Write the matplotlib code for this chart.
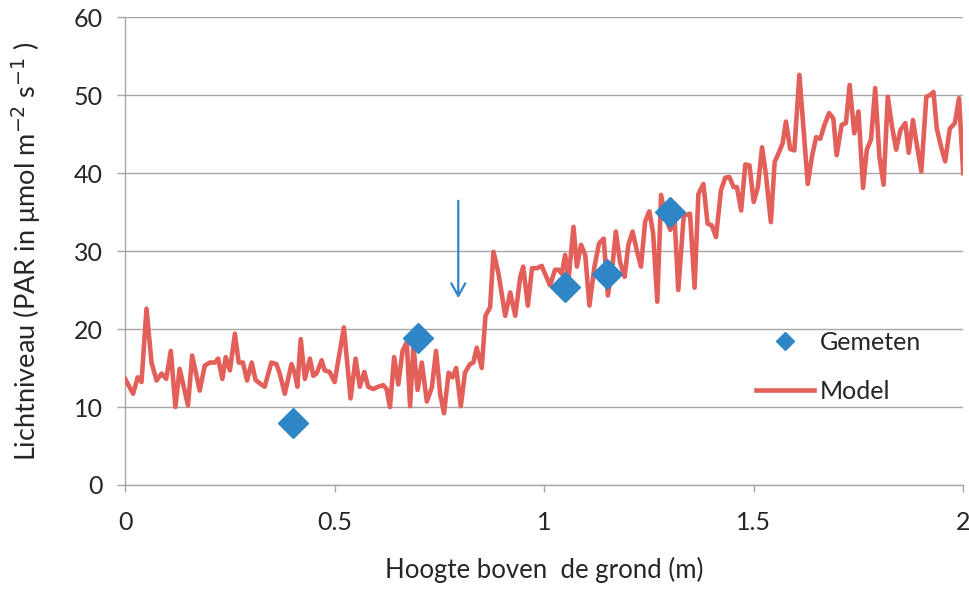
import matplotlib
matplotlib.use("Agg")
import matplotlib.pyplot as plt

plt.rcParams['font.family'] = ['Lato', 'DejaVu Sans']

# Measured light levels
meas_height = [0.40, 0.70, 1.05, 1.15, 1.30]
meas_par = [8.0, 18.8, 25.4, 27.1, 35.0]

# Modelled light profile
model_height = [
    0.000, 0.019, 0.030, 0.039, 0.051, 0.063, 0.075, 0.087, 0.098, 0.109,
    0.120, 0.130, 0.150, 0.160, 0.178, 0.190, 0.202, 0.214, 0.222, 0.232,
    0.240, 0.250, 0.262, 0.271, 0.281, 0.291, 0.302, 0.311, 0.322, 0.333,
    0.349, 0.361, 0.369, 0.381, 0.397, 0.405, 0.411, 0.419, 0.429, 0.441,
    0.449, 0.457, 0.469, 0.476, 0.488, 0.500, 0.522, 0.538, 0.550, 0.560,
    0.571, 0.580, 0.592, 0.604, 0.616, 0.624, 0.632, 0.642, 0.652, 0.662,
    0.672, 0.680, 0.688, 0.698, 0.708, 0.720, 0.732, 0.742, 0.752, 0.761,
    0.772, 0.781, 0.790, 0.801, 0.811, 0.823, 0.831, 0.839, 0.851, 0.860,
    0.871, 0.879, 0.891, 0.907, 0.919, 0.931, 0.943, 0.950, 0.961, 0.971,
    0.983, 0.994, 1.002, 1.014, 1.026, 1.034, 1.042, 1.050, 1.058, 1.070,
    1.078, 1.088, 1.098, 1.108, 1.120, 1.131, 1.142, 1.152, 1.162, 1.171,
    1.181, 1.192, 1.201, 1.211, 1.221, 1.231, 1.241, 1.251, 1.260, 1.270,
    1.279, 1.289, 1.301, 1.311, 1.320, 1.333, 1.348, 1.359, 1.368, 1.380,
    1.390, 1.400, 1.410, 1.422, 1.432, 1.442, 1.452, 1.460, 1.470, 1.480,
    1.490, 1.500, 1.510, 1.520, 1.529, 1.541, 1.550, 1.559, 1.569, 1.577,
    1.587, 1.597, 1.609, 1.629, 1.639, 1.649, 1.659, 1.669, 1.680, 1.690,
    1.698, 1.710, 1.720, 1.729, 1.740, 1.750, 1.761, 1.770, 1.780, 1.790,
    1.800, 1.810, 1.820, 1.830, 1.840, 1.850, 1.862, 1.870, 1.880, 1.890,
    1.900, 1.912, 1.921, 1.929, 1.937, 1.948, 1.957, 1.968, 1.980, 1.990,
    2.000,
]
model_par = [
    13.6, 11.7, 13.8, 13.2, 22.6, 15.7, 13.4, 14.3, 13.6, 17.2,
    10.0, 14.9, 10.2, 16.6, 12.1, 15.3, 15.7, 15.7, 16.2, 13.6,
    16.4, 14.7, 19.4, 15.7, 15.7, 13.4, 15.7, 13.5, 13.0, 12.6,
    15.7, 15.5, 14.3, 11.7, 15.5, 14.3, 12.6, 18.7, 13.6, 16.2,
    14.0, 14.3, 16.0, 14.7, 14.5, 13.2, 20.2, 11.1, 16.2, 12.6,
    14.5, 12.6, 12.3, 12.6, 12.8, 12.3, 10.0, 16.4, 12.9, 17.2,
    18.3, 10.1, 17.8, 12.2, 15.7, 10.7, 12.5, 17.2, 11.6, 9.2,
    14.4, 13.8, 15.0, 10.1, 14.4, 15.5, 15.7, 17.6, 15.0, 21.7,
    22.8, 29.9, 27.1, 21.7, 24.7, 21.7, 26.7, 28.0, 23.0, 27.8,
    27.8, 28.1, 27.1, 25.6, 27.6, 27.6, 27.1, 29.5, 26.3, 33.1,
    28.0, 30.8, 29.5, 23.0, 28.0, 31.0, 31.6, 24.3, 27.6, 32.5,
    28.6, 26.7, 30.8, 32.5, 30.1, 28.0, 33.8, 35.1, 32.3, 23.5,
    37.2, 34.4, 32.7, 34.4, 25.0, 34.5, 34.8, 25.3, 37.3, 38.6,
    33.5, 33.3, 31.8, 37.8, 39.4, 39.5, 38.2, 38.2, 35.2, 41.1,
    41.0, 36.3, 38.2, 43.3, 39.9, 33.7, 41.4, 42.5, 43.8, 46.6,
    43.1, 42.9, 52.6, 38.6, 42.1, 44.6, 44.4, 46.2, 47.7, 47.0,
    42.3, 46.2, 46.4, 51.3, 45.1, 47.9, 38.1, 43.0, 44.3, 50.9,
    42.1, 38.5, 49.8, 46.0, 43.0, 45.5, 46.4, 42.6, 46.8, 43.4,
    40.2, 49.8, 50.0, 50.4, 45.7, 43.2, 41.5, 45.7, 46.4, 49.6,
    40.0,
]

x_ticks = [0, 0.5, 1, 1.5, 2]
x_tick_labels = ["0", "0.5", "1", "1.5", "2"]
y_ticks = [0, 10, 20, 30, 40, 50, 60]

line_color = '#E35F5A'
marker_color = '#2E86C6'
grid_color = '#A6A6A6'
text_color = '#262626'

fig = plt.figure(figsize=(9.7, 5.9), dpi=100)
ax = fig.add_axes([0.129, 0.178, 0.864, 0.793])

ax.plot(model_height, model_par, color=line_color, lw=3.3, label='Model',
        solid_joinstyle='round', zorder=3)
ax.plot(meas_height, meas_par, linestyle='none', marker='D', ms=15,
        color=marker_color, label='Gemeten', zorder=4)

# Arrow pointing at the transition height
ax.annotate('', xy=(0.795, 23.6), xytext=(0.795, 36.8),
            arrowprops=dict(arrowstyle='->,head_length=0.9,head_width=0.5',
                            color=marker_color, lw=1.6), zorder=5)

ax.set_xlim(0, 2)
ax.set_ylim(0, 60)
ax.set_xticks(x_ticks)
ax.set_xticklabels(x_tick_labels)
ax.set_yticks(y_ticks)

ax.yaxis.grid(True, color=grid_color, lw=1.0)
ax.set_axisbelow(True)
for side in ['top', 'right']:
    ax.spines[side].set_visible(False)
for side in ['left', 'bottom']:
    ax.spines[side].set_color(grid_color)
    ax.spines[side].set_linewidth(1.0)

ax.tick_params(axis='both', colors=grid_color, labelcolor=text_color,
               labelsize=18, width=1.0)
ax.tick_params(axis='x', length=5, pad=14)
ax.tick_params(axis='y', length=6, pad=10)

ax.set_xlabel('Hoogte boven  de grond (m)', fontsize=18.5, color=text_color,
              labelpad=16)
ax.set_ylabel('Lichtniveau (PAR in μmol m$^{-2}$ s$^{-1}$ )', fontsize=19.5,
              color=text_color, labelpad=22)

handles, labels = ax.get_legend_handles_labels()
ax.legend(handles[::-1], labels[::-1], loc='upper left',
          bbox_to_anchor=(0.726, 0.378), frameon=False, fontsize=18,
          labelspacing=1.05, handlelength=2.3, handletextpad=0.25,
          labelcolor=text_color, markerscale=0.6)

fig.savefig('out.png', dpi=100)
